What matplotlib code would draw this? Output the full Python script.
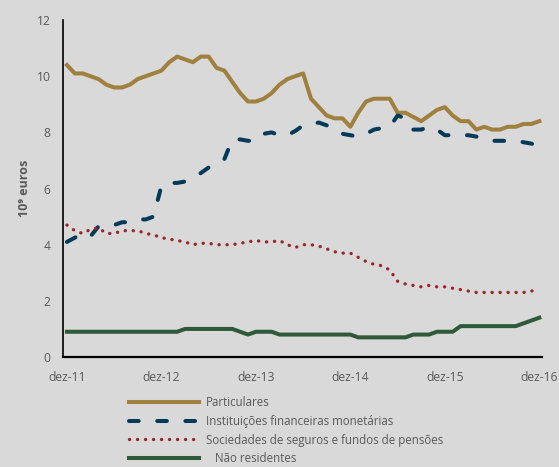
import matplotlib.pyplot as plt
from matplotlib.lines import Line2D

plt.rcParams['font.family'] = ['Open Sans', 'DejaVu Sans']

# monthly values, dez-11 .. dez-16 (10^9 euros)
particulares = [10.4, 10.1, 10.1, 10.0, 9.9, 9.7, 9.6, 9.6, 9.7, 9.9, 10.0, 10.1,
                10.2, 10.5, 10.7, 10.6, 10.5, 10.7, 10.7, 10.3, 10.2, 9.8, 9.4, 9.1,
                9.1, 9.2, 9.4, 9.7, 9.9, 10.0, 10.1, 9.2, 8.9, 8.6, 8.5, 8.5,
                8.2, 8.7, 9.1, 9.2, 9.2, 9.2, 8.7, 8.7, 8.55, 8.4, 8.6, 8.8,
                8.9, 8.6, 8.4, 8.4, 8.1, 8.2, 8.1, 8.1, 8.2, 8.2, 8.3, 8.3, 8.4]
ifm = [4.1, 4.25, 4.4, 4.3, 4.65, 4.65, 4.7, 4.8, 4.8, 4.9, 4.9, 5.0,
       6.1, 6.2, 6.2, 6.25, 6.4, 6.55, 6.75, 6.95, 7.05, 7.75, 7.75, 7.7,
       7.7, 7.95, 8.0, 7.9, 7.9, 8.05, 8.25, 8.3, 8.35, 8.25, 8.15, 7.95,
       7.9, 7.85, 7.95, 8.1, 8.15, 8.2, 8.6, 8.5, 8.1, 8.1, 8.2, 8.1,
       7.9, 7.9, 7.9, 7.9, 7.85, 7.75, 7.7, 7.7, 7.7, 7.7, 7.65, 7.6, 7.5]
seguros = [4.7, 4.5, 4.4, 4.55, 4.6, 4.4, 4.4, 4.5, 4.5, 4.5, 4.4, 4.35,
           4.25, 4.2, 4.15, 4.1, 4.0, 4.05, 4.05, 4.0, 4.0, 4.0, 4.05, 4.1,
           4.15, 4.1, 4.1, 4.15, 4.0, 3.9, 4.0, 4.0, 3.95, 3.85, 3.75, 3.7,
           3.7, 3.55, 3.4, 3.3, 3.25, 3.1, 2.7, 2.6, 2.55, 2.5, 2.55, 2.5,
           2.5, 2.45, 2.4, 2.35, 2.3, 2.3, 2.3, 2.3, 2.3, 2.3, 2.3, 2.35, 2.4]
nao_residentes = [0.9] * 15 + [1.0] * 7 + [0.9, 0.8, 0.9, 0.9, 0.9] + [0.8] * 10 \
    + [0.7] * 7 + [0.8] * 3 + [0.9] * 3 + [1.1] * 8 + [1.2, 1.3, 1.4]

xticklabels = ['dez-11', 'dez-12', 'dez-13', 'dez-14', 'dez-15', 'dez-16']
labels = ['Particulares', 'Instituições financeiras monetárias',
          'Sociedades de seguros e fundos de pensões', '   Não residentes']

gold = '#a0803e'
navy = '#023a58'
red = '#9a262b'
green = '#2f5a39'
grey = '#595959'
bg = '#d9d9d9'

months = range(len(particulares))

fig = plt.figure(figsize=(5.59, 4.67), dpi=100, facecolor=bg)
ax = fig.add_axes([0.1127, 0.2355, 0.857, 0.7215], facecolor=bg)

lw = 2.9
ax.plot(months, particulares, color=gold, lw=lw, solid_joinstyle='round')
ax.plot(months, ifm, color=navy, lw=lw, dashes=(2.4, 4.6), dash_capstyle='round')
ax.plot(months, seguros, color=red, lw=2.4, dashes=(0.05, 2.35), dash_capstyle='round')
ax.plot(months, nao_residentes, color=green, lw=lw, solid_joinstyle='round')

ax.set_xlim(-0.5, 60.35)
ax.set_ylim(0, 12)
ax.set_yticks(range(0, 13, 2))
ax.set_xticks(range(0, 61, 12))
ax.set_xticklabels(xticklabels)
ax.tick_params(length=0, labelsize=8.7, labelcolor=grey)
ax.tick_params(axis='y', pad=9)
ax.tick_params(axis='x', pad=10)

for s in ['top', 'right']:
    ax.spines[s].set_visible(False)
ax.spines['left'].set_linewidth(1.2)
ax.spines['bottom'].set_linewidth(1.6)

ax.set_ylabel('10⁹ euros', fontsize=9, fontweight='bold', color=grey, labelpad=4)

handles = [
    Line2D([], [], color=gold, lw=lw),
    Line2D([], [], color=navy, lw=lw, dashes=(2.4, 4.6), dash_capstyle='round'),
    Line2D([], [], color=red, lw=2.4, dashes=(0.05, 2.35), dash_capstyle='round'),
    Line2D([], [], color=green, lw=lw),
]
leg = fig.legend(handles, labels, loc='upper left', bbox_to_anchor=(129 / 559, 1 - 396 / 467),
                 frameon=False, fontsize=8.3, handlelength=6.1, handletextpad=0.55,
                 labelspacing=0.5, borderpad=0, borderaxespad=0)
for t in leg.get_texts():
    t.set_color(grey)

fig.savefig('out.png', dpi=100, facecolor=bg)
